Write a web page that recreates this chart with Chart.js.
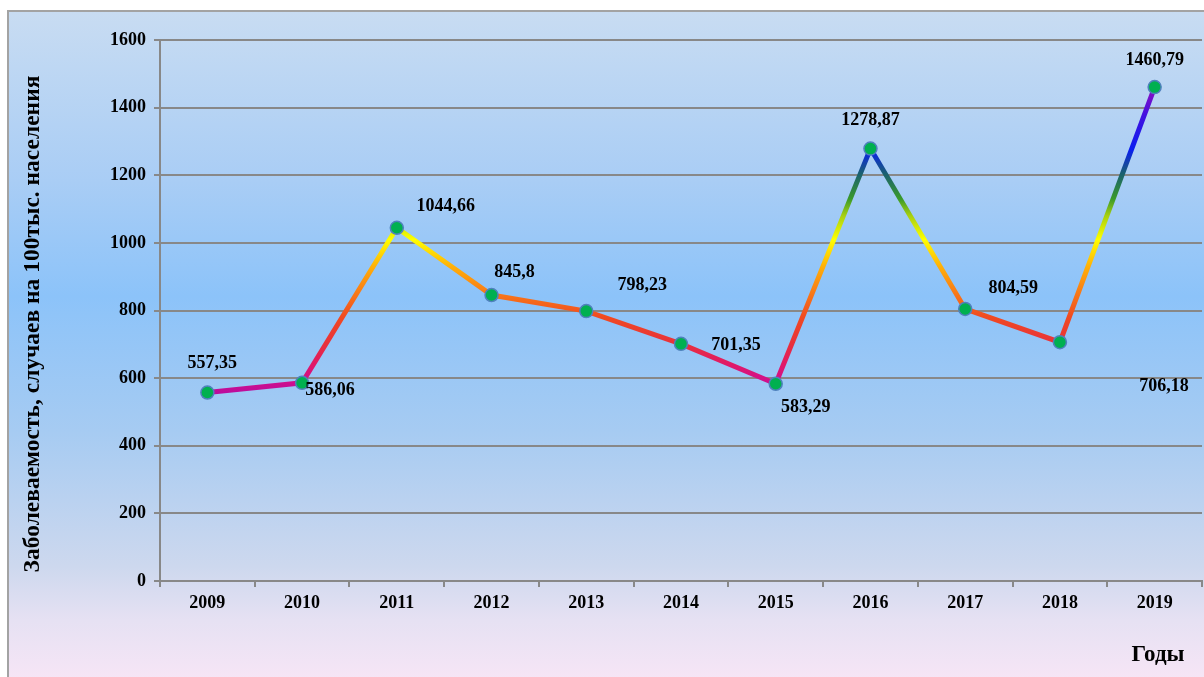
<!DOCTYPE html>
<html>
<head>
<meta charset="utf-8">
<script src="https://cdn.jsdelivr.net/npm/chart.js@4/dist/chart.umd.min.js"></script>
<style>
  body { margin: 0; background: #fff; overflow: hidden; }
  .frame {
    position: absolute; left: 7px; top: 10px; width: 1205px; height: 680px;
    border: 2px solid #a3a3a3; box-sizing: border-box;
    background: linear-gradient(to bottom, #c8dcf2 0%, #a9cdf5 25%, #8cc3f9 42%, #a6cbf2 62%, #cdd8ee 82%, #e6e1f3 90%, #f9e6f6 100%);
  }
  #chart { position: absolute; left: 0; top: 0; }
</style>
</head>
<body>
<div class="frame"></div>
<canvas id="chart" width="1204" height="677"></canvas>
<script>
const years = ['2009', '2010', '2011', '2012', '2013', '2014', '2015', '2016', '2017', '2018', '2019'];
const incidence = [557.35, 586.06, 1044.66, 845.8, 798.23, 701.35, 583.29, 1278.87, 804.59, 706.18, 1460.79];
const yTicks = [0, 200, 400, 600, 800, 1000, 1200, 1400, 1600];

// where each value label sits relative to its point (px)
const labelShift = [[5, -29], [28, 8], [49, -21], [23, -23], [56, -26], [55, 1], [30, 24], [0, -28], [48, -21], [104, 44], [0, -27]];

// line colour by value
const lineStops = [
  [550, '#b80ca0'], [595, '#d2108a'], [640, '#e01868'], [700, '#e8303c'],
  [780, '#f04a22'], [850, '#f87818'], [930, '#ffb008'], [1010, '#ffff00'],
  [1080, '#a8d010'], [1130, '#3a9a2a'], [1205, '#1a6070'], [1275, '#0a1ef0'],
  [1380, '#4410e0'], [1460, '#9010c0']
];

const font = '"Liberation Serif", "Times New Roman", serif';

function lineGradient(context) {
  const chart = context.chart;
  if (!chart.chartArea) return '#e03040';
  const y = chart.scales.y;
  const y0 = y.getPixelForValue(0), y1 = y.getPixelForValue(1600);
  const g = chart.ctx.createLinearGradient(0, y0, 0, y1);
  lineStops.forEach(s => g.addColorStop(s[0] / 1600, s[1]));
  return g;
}

const extras = {
  id: 'extras',
  afterDatasetsDraw(chart) {
    const ctx = chart.ctx;
    const meta = chart.getDatasetMeta(0);
    ctx.save();
    ctx.fillStyle = '#000';
    ctx.font = 'bold 18px ' + font;
    ctx.textAlign = 'center';
    ctx.textBaseline = 'middle';
    meta.data.forEach((p, i) => {
      const txt = incidence[i].toString().replace('.', ',');
      ctx.fillText(txt, p.x + labelShift[i][0], p.y + labelShift[i][1]);
    });
    // axis titles
    ctx.font = 'bold 23px ' + font;
    ctx.fillText('Годы', 1158, 655);
    ctx.font = 'bold 23.5px ' + font;
    ctx.translate(33, 324);
    ctx.rotate(-Math.PI / 2);
    ctx.fillText('Заболеваемость, случаев на 100тыс. населения', 0, 0);
    ctx.restore();
  }
};

new Chart(document.getElementById('chart'), {
  type: 'line',
  data: {
    labels: years,
    datasets: [{
      data: incidence,
      borderColor: lineGradient,
      borderWidth: 5,
      tension: 0,
      clip: false,
      pointRadius: 6.5,
      pointHoverRadius: 6.5,
      pointBackgroundColor: '#00b050',
      pointBorderColor: '#4f81bd',
      pointBorderWidth: 1.5
    }]
  },
  options: {
    responsive: false,
    animation: false,
    devicePixelRatio: 1,
    layout: { autoPadding: false, padding: { top: 40, right: 2, bottom: 0, left: 0 } },
    plugins: { legend: { display: false }, tooltip: { enabled: false } },
    scales: {
      x: {
        offset: true,
        grid: { offset: true, drawOnChartArea: false, drawTicks: true, tickLength: 6, color: '#888', lineWidth: 2 },
        border: { color: '#888', width: 2 },
        ticks: { color: '#000', padding: 6, font: { family: font, size: 18, weight: 'bold' }, maxRotation: 0 },
        afterFit(scale) {
          scale.height = 96;
          scale.paddingLeft = 0;
          scale.paddingRight = 0;
        }
      },
      y: {
        min: 0,
        max: 1600,
        afterBuildTicks(scale) { scale.ticks = yTicks.map(v => ({ value: v })); },
        grid: { color: '#888', lineWidth: 2, tickLength: 6 },
        border: { color: '#888', width: 2 },
        ticks: { color: '#000', padding: 8, font: { family: font, size: 18, weight: 'bold' }, callback: v => String(v) },
        afterFit(scale) { scale.width = 160; }
      }
    }
  },
  plugins: [extras]
});
</script>
</body>
</html>
